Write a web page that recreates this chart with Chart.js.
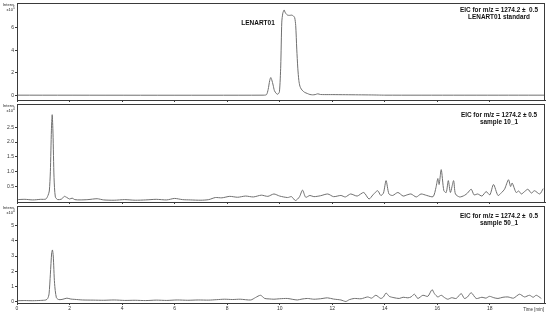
<!DOCTYPE html>
<html>
<head>
<meta charset="utf-8">
<script src="https://cdn.jsdelivr.net/npm/chart.js@4.4.1/dist/chart.umd.min.js"></script>
<style>
  body { margin: 0; background: #fff; width: 550px; height: 313px; overflow: hidden; position: relative; }
  .panel { position: absolute; left: 0; }
</style>
</head>
<body>
<div class="panel" style="top:-3px"><canvas id="eic1" width="550" height="107"></canvas></div>
<div class="panel" style="top:100px"><canvas id="eic2" width="550" height="106"></canvas></div>
<div class="panel" style="top:202px"><canvas id="eic3" width="550" height="111"></canvas></div>
<script>
// retention time ticks (min)
const timeTicks = [0, 2, 4, 6, 8, 10, 12, 14, 16, 18];

// LENART01 standard, intensity x10^5
const stdTime = [0, 9.4, 9.5, 9.56, 9.62, 9.66, 9.7, 9.75, 9.8, 9.87, 9.93, 9.99, 10.04, 10.08, 10.12, 10.17, 10.2, 10.24, 10.3, 10.38, 10.46, 10.52, 10.57, 10.61, 10.65, 10.69, 10.73, 10.77, 10.82, 10.88, 10.95, 11.05, 11.15, 11.25, 11.35, 11.45, 11.55, 11.7, 12.0, 12.5, 13.0, 13.5, 13.75, 14.0, 20.1];
const stdInt  = [0, 0, 0.05, 0.5, 1.3, 1.57, 1.35, 0.9, 0.4, 0.15, 0.08, 0.3, 2.6, 6.5, 7.3, 7.58, 7.4, 7.25, 7.12, 7.1, 7.12, 7.05, 6.9, 6.2, 4.1, 2.4, 1.3, 0.8, 0.55, 0.38, 0.25, 0.15, 0.06, 0.03, 0.05, 0.12, 0.06, 0.05, 0.05, 0.04, 0.03, 0.02, 0.01, 0, 0];

// sample 10_1, intensity x10^4
const s10Time = [0, 0.3, 0.6, 0.9, 1.1, 1.18, 1.23, 1.27, 1.31, 1.34, 1.37, 1.41, 1.46, 1.55, 1.7, 1.8, 1.9, 2.0, 2.1, 2.2, 2.4, 2.7, 3.05, 3.3, 3.7, 4.1, 4.5, 4.9, 5.3, 5.7, 6.0, 6.3, 6.6, 7.0, 7.3, 7.55, 7.8, 8.1, 8.4, 8.7, 9.0, 9.3, 9.55, 9.78, 10.0, 10.3, 10.45, 10.6, 10.75, 10.87, 10.99, 11.15, 11.3, 11.55, 11.83, 12.05, 12.33, 12.5, 12.7, 12.95, 13.2, 13.4, 13.55, 13.73, 13.85, 13.95, 14.05, 14.16, 14.3, 14.5, 14.7, 14.85, 15.0, 15.2, 15.38, 15.6, 15.84, 15.95, 16.02, 16.07, 16.15, 16.25, 16.34, 16.42, 16.5, 16.62, 16.69, 16.85, 17.03, 17.15, 17.29, 17.4, 17.54, 17.7, 17.86, 18.0, 18.14, 18.31, 18.45, 18.56, 18.71, 18.79, 18.85, 19.0, 19.1, 19.2, 19.32, 19.45, 19.58, 19.7, 19.9, 20.03];
const s10Int  = [0.06, 0.07, 0.05, 0.07, 0.08, 0.2, 0.35, 1.0, 2.4, 2.92, 2.3, 0.8, 0.15, 0.06, 0.08, 0.17, 0.13, 0.08, 0.11, 0.06, 0.05, 0.06, 0.09, 0.05, 0.04, 0.06, 0.04, 0.05, 0.07, 0.05, 0.1, 0.06, 0.05, 0.04, 0.06, 0.13, 0.12, 0.17, 0.14, 0.18, 0.15, 0.21, 0.17, 0.25, 0.18, 0.13, 0.16, 0.03, 0.15, 0.38, 0.14, 0.2, 0.16, 0.19, 0.25, 0.16, 0.2, 0.15, 0.25, 0.18, 0.3, 0.08, 0.22, 0.36, 0.2, 0.28, 0.7, 0.25, 0.2, 0.3, 0.18, 0.22, 0.25, 0.15, 0.25, 0.2, 0.16, 0.47, 0.77, 0.57, 1.07, 0.36, 0.3, 0.7, 0.3, 0.7, 0.25, 0.15, 0.2, 0.28, 0.41, 0.22, 0.25, 0.18, 0.33, 0.22, 0.57, 0.2, 0.3, 0.41, 0.73, 0.5, 0.62, 0.3, 0.35, 0.25, 0.33, 0.41, 0.28, 0.36, 0.25, 0.43];

// sample 50_1, intensity x10^4
const s50Time = [0, 0.3, 0.6, 0.9, 1.1, 1.17, 1.22, 1.27, 1.32, 1.35, 1.38, 1.43, 1.5, 1.6, 1.75, 1.9, 2.05, 2.2, 2.5, 2.9, 3.3, 3.7, 4.1, 4.5, 4.9, 5.3, 5.7, 6.1, 6.5, 6.9, 7.3, 7.6, 7.9, 8.2, 8.5, 8.9, 9.08, 9.27, 9.43, 9.6, 9.78, 10.0, 10.29, 10.5, 10.67, 10.85, 11.05, 11.3, 11.55, 11.82, 12.05, 12.33, 12.52, 12.65, 12.84, 13.1, 13.35, 13.5, 13.66, 13.85, 13.95, 14.05, 14.17, 14.35, 14.55, 14.7, 14.88, 15.0, 15.13, 15.26, 15.45, 15.64, 15.8, 15.89, 16.02, 16.15, 16.28, 16.4, 16.55, 16.72, 16.91, 17.03, 17.15, 17.29, 17.48, 17.7, 17.85, 17.99, 18.15, 18.31, 18.5, 18.69, 18.9, 19.13, 19.32, 19.51, 19.65, 19.77, 19.96];
const s50Int  = [0.05, 0.06, 0.05, 0.07, 0.1, 0.2, 0.5, 1.8, 3.2, 3.4, 3.0, 1.2, 0.25, 0.12, 0.15, 0.22, 0.16, 0.14, 0.1, 0.09, 0.08, 0.1, 0.07, 0.08, 0.06, 0.09, 0.07, 0.1, 0.08, 0.1, 0.09, 0.12, 0.15, 0.13, 0.15, 0.1, 0.26, 0.41, 0.2, 0.17, 0.15, 0.18, 0.2, 0.14, 0.1, 0.16, 0.2, 0.15, 0.18, 0.24, 0.16, 0.1, 0.0, 0.12, 0.2, 0.18, 0.3, 0.22, 0.41, 0.2, 0.3, 0.56, 0.34, 0.25, 0.2, 0.28, 0.24, 0.3, 0.48, 0.2, 0.41, 0.34, 0.78, 0.52, 0.3, 0.41, 0.25, 0.15, 0.25, 0.2, 0.52, 0.2, 0.3, 0.58, 0.2, 0.28, 0.22, 0.34, 0.25, 0.2, 0.28, 0.3, 0.22, 0.48, 0.3, 0.41, 0.28, 0.41, 0.2];

const FONT = 'Liberation Sans, Arial, sans-serif';
const traceColor = '#6f6f6f';
const axisColor = '#3a3a3a';

function toPoints(times, values) {
  return times.map((t, i) => ({ x: t, y: values[i] }));
}

// frame around plot area + panel texts
const framePlugin = {
  id: 'frame',
  afterDraw(chart, args, opts) {
    const { ctx, chartArea: a } = chart;
    ctx.save();
    ctx.strokeStyle = axisColor;
    ctx.lineWidth = 1;
    ctx.strokeRect(a.left + 0.5, a.top + 0.5, a.right - a.left - 1, a.bottom - a.top);
    ctx.fillStyle = '#222';
    ctx.font = '4px ' + FONT;
    ctx.textAlign = 'right';
    ctx.fillText('Intens.', 15, a.top + 3);
    ctx.fillText('x10', 13, a.top + 8);
    ctx.font = '3px ' + FONT;
    ctx.textAlign = 'left';
    ctx.fillText(opts.exp, 13, a.top + 6);
    ctx.fillStyle = '#111';
    ctx.font = 'bold 6.4px ' + FONT;
    ctx.textAlign = 'center';
    ctx.fillText(opts.title, 499, a.top + opts.titleDy);
    ctx.fillText(opts.sample, 499, a.top + opts.titleDy + 7);
    if (opts.peakLabel) {
      ctx.font = 'bold 6.5px ' + FONT;
      ctx.fillText(opts.peakLabel, 258, a.top + 22);
    }
    if (opts.timeLabel) {
      ctx.fillStyle = '#333';
      ctx.font = '4.5px ' + FONT;
      ctx.textAlign = 'right';
      ctx.fillText('Time [min]', 544, a.bottom + 8);
    }
    ctx.restore();
  }
};

function makePanel(id, times, values, cfg) {
  const canvas = document.getElementById(id);
  return new Chart(canvas.getContext('2d'), {
    type: 'line',
    data: {
      datasets: [{
        data: toPoints(times, values),
        borderColor: traceColor,
        borderWidth: 1,
        pointRadius: 0,
        tension: 0.25,
        fill: false
      }]
    },
    options: {
      responsive: false,
      animation: false,
      layout: { padding: { top: cfg.padTop, right: 5, left: 0, bottom: 0 } },
      plugins: {
        legend: { display: false },
        tooltip: { enabled: false },
        frame: cfg.frame
      },
      scales: {
        x: {
          type: 'linear',
          min: 0,
          max: 20.1,
          grid: { display: true, drawOnChartArea: false, drawTicks: true, tickLength: 2, color: axisColor },
          border: { display: true, color: axisColor },
          afterBuildTicks: s => { s.ticks = timeTicks.map(v => ({ value: v })); },
          afterFit: s => { s.height = cfg.xHeight; },
          ticks: {
            display: cfg.showTime,
            padding: 1,
            color: '#333',
            font: { family: FONT, size: 5 },
            maxRotation: 0,
            autoSkip: false,
            callback: v => String(v)
          }
        },
        y: {
          min: cfg.yMin,
          max: cfg.yMax,
          grid: { display: true, drawOnChartArea: false, drawTicks: true, tickLength: 2, color: axisColor },
          border: { display: true, color: axisColor },
          afterBuildTicks: s => { s.ticks = cfg.yTicks.map(v => ({ value: v })); },
          afterFit: s => { s.width = 17; },
          ticks: {
            padding: 1,
            color: '#333',
            font: { family: FONT, size: 5 },
            callback: v => cfg.yFmt(v)
          }
        }
      }
    },
    plugins: [framePlugin]
  });
}

makePanel('eic1', stdTime, stdInt, {
  padTop: 6, xHeight: 2, showTime: false,
  yMin: -0.43, yMax: 8.2, yTicks: [0, 2, 4, 6], yFmt: v => String(v),
  frame: { exp: '5', title: 'EIC for m/z = 1274.2 \u00b1  0.5', sample: 'LENART01 standard', titleDy: 9, peakLabel: 'LENART01' }
});

makePanel('eic2', s10Time, s10Int, {
  padTop: 0, xHeight: 2, showTime: false,
  yMin: -0.02, yMax: 3.28, yTicks: [0.5, 1.0, 1.5, 2.0, 2.5], yFmt: v => v.toFixed(1),
  frame: { exp: '4', title: 'EIC for m/z = 1274.2 \u00b1 0.5', sample: 'sample 10_1', titleDy: 13 }
});

makePanel('eic3', s50Time, s50Int, {
  padTop: 0, xHeight: 10, showTime: true,
  yMin: -0.1, yMax: 6.3, yTicks: [0, 1, 2, 3, 4, 5], yFmt: v => String(v),
  frame: { exp: '4', title: 'EIC for m/z = 1274.2 \u00b1  0.5', sample: 'sample 50_1', titleDy: 12, timeLabel: true }
});
</script>
</body>
</html>
